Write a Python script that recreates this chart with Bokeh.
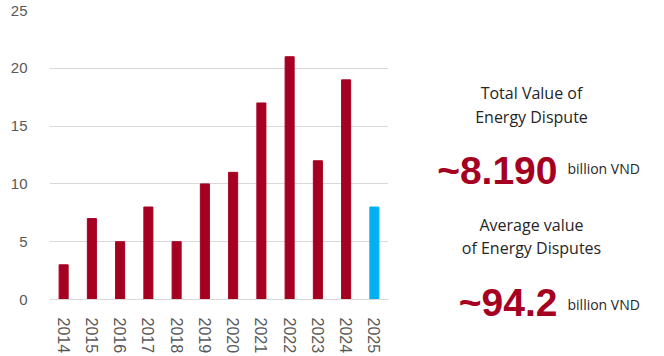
from bokeh.plotting import figure
from bokeh.models import Range1d, FactorRange, ColumnDataSource, Label
from bokeh.layouts import row
from bokeh.embed import file_html
from bokeh.resources import INLINE

years = ["2014", "2015", "2016", "2017", "2018", "2019", "2020",
         "2021", "2022", "2023", "2024", "2025"]
counts = [3, 7, 5, 8, 5, 10, 11, 17, 21, 12, 19, 8]
y_ticks = [0, 5, 10, 15, 20, 25]

RED = "#A50021"
BLUE = "#00B0F0"
colors = [BLUE if y == "2025" else RED for y in years]

src = ColumnDataSource(dict(year=years, count=counts, color=colors))

p = figure(x_range=FactorRange(*years), y_range=Range1d(0, 25),
           width=400, height=356, output_backend="svg", toolbar_location=None,
           min_border_left=49, min_border_right=12, min_border_top=10,
           min_border_bottom=54)
p.frame_align = False
p.vbar(x="year", top="count", width=0.32, color="color", source=src)

p.outline_line_color = None
p.xgrid.grid_line_color = None
p.ygrid.grid_line_color = "#d9d9d9"
p.ygrid.grid_line_width = 1
p.yaxis.ticker = y_ticks
p.yaxis.axis_line_color = None
p.yaxis.major_tick_line_color = None
p.yaxis.minor_tick_line_color = None
p.yaxis.major_label_text_font = "Liberation Sans"
p.yaxis.major_label_text_font_size = "15px"
p.yaxis.major_label_text_color = "#595959"
p.yaxis.major_label_standoff = 16

p.xaxis.axis_line_color = "#d9d9d9"
p.xaxis.major_tick_line_color = None
p.xaxis.minor_tick_line_color = None
p.xaxis.major_label_orientation = "vertical"
p.xaxis.major_label_text_font = "Liberation Sans"
p.xaxis.major_label_text_font_size = "16px"
p.xaxis.major_label_text_color = "#595959"
p.xaxis.major_label_standoff = 12

# Right-hand text panel (data coordinates == page pixel coordinates)
headings = [["Total Value of", "Energy Dispute"],
            ["Average value", "of Energy Disputes"]]
big_values = ["~8.190", "~94.2"]
unit = "billion VND"

q = figure(x_range=Range1d(400, 664), y_range=Range1d(356, 0),
           width=264, height=356, output_backend="svg", toolbar_location=None,
           min_border=0)
q.frame_align = False
q.axis.visible = False
q.grid.visible = False
q.outline_line_color = None

DARK = "#262626"
head_y = [(92, 116), (224, 247)]
val_y = [170, 302]
unit_y = [168, 304]
for (l1, l2), (y1, y2) in zip(headings, head_y):
    for txt, yy in ((l1, y1), (l2, y2)):
        q.add_layout(Label(x=531, y=yy, text=txt, text_align="center",
                           text_baseline="middle", text_font="Open Sans",
                           text_font_size="16px", text_color=DARK))
for txt, yy in zip(big_values, val_y):
    q.add_layout(Label(x=557, y=yy, text=txt, text_align="right",
                       text_baseline="middle", text_font="Liberation Sans",
                       text_font_style="bold", text_font_size="39px",
                       text_color=RED))
for yy in unit_y:
    q.add_layout(Label(x=567, y=yy, text=unit, text_align="left",
                       text_baseline="middle", text_font="Open Sans",
                       text_font_size="14px", text_color=DARK))

layout = row(p, q)
open("out.html", "w").write(file_html(layout, INLINE))
